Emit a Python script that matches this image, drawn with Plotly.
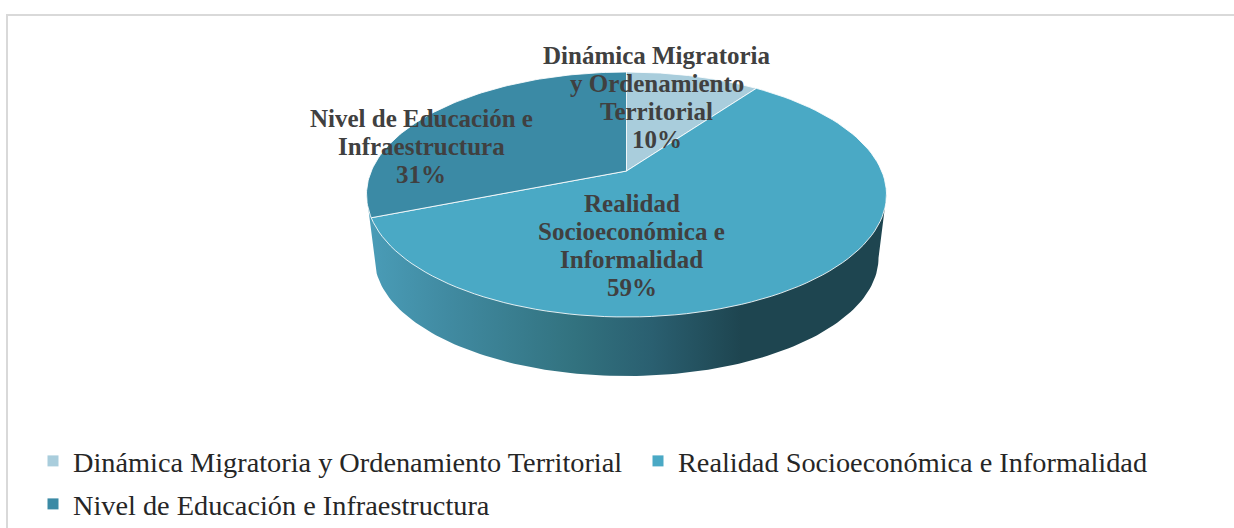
import numpy as np
import plotly.graph_objects as go

categories = ["Dinámica Migratoria y Ordenamiento Territorial",
              "Realidad Socioeconómica e Informalidad",
              "Nivel de Educación e Infraestructura"]
label_lines = [["Dinámica Migratoria", "y Ordenamiento", "Territorial"],
               ["Realidad", "Socioeconómica e", "Informalidad"],
               ["Nivel de Educación e", "Infraestructura"]]
values = [10, 59, 31]
colors = ["#A9CDDC", "#4AA9C5", "#3B8AA5"]

# the figure is a bit taller than the window, the frame and legend run to the cut edge
W, H = 1234, 560

# ellipse of the tilted pie top, in pixels
CX, CY, RX, RY = 626.5, 194.5, 260, 122.5
APEX_RISE = 23.5  # the apex sits above the ellipse centre because of perspective
K = APEX_RISE / RY
A = RX * np.sqrt(1 - K ** 2)


def project(theta):
    # theta in radians, clockwise from 12 o'clock
    c, s = np.sin(theta), np.cos(theta)
    d = 1 + K * s
    return CX + A * c / d, CY - (RY * s + APEX_RISE) / d


fig = go.Figure()

# side wall, drawn first so the top covers its upper edge
t = np.linspace(np.pi, 0, 120)
bx = CX + 252 * np.cos(t)
by = 258 + 118 * np.sin(t)
wall_x = [CX - RX] + list(bx) + [CX + RX]
wall_y = [CY] + list(by) + [CY]
fig.add_trace(go.Scatter(
    x=wall_x, y=wall_y, mode="lines", fill="toself", line=dict(width=0),
    fillgradient=dict(type="horizontal", colorscale=[
        [0, "#4A9DB8"], [0.15, "#418BA2"], [0.4, "#32727F"], [0.55, "#2A5F70"],
        [0.72, "#1E4550"], [1, "#1E4550"]]),
    showlegend=False, hoverinfo="skip"))

# top of the pie
total = sum(values)
start = 0.0
apex_x, apex_y = CX, CY - APEX_RISE
for cat, val, col in zip(categories, values, colors):
    sweep = val / total * 2 * np.pi
    th = np.linspace(start, start + sweep, 100)
    px, py = project(th)
    fig.add_trace(go.Scatter(
        x=[apex_x] + list(px) + [apex_x], y=[apex_y] + list(py) + [apex_y],
        mode="lines", fill="toself", fillcolor=col,
        line=dict(color="rgba(255,255,255,0.85)", width=1),
        name=cat, showlegend=False, hoverinfo="name"))
    start += sweep

# one legend per entry so each can sit where the original has it
legend_names = ["legend", "legend2", "legend3"]
for name, cat, col in zip(legend_names, categories, colors):
    fig.add_trace(go.Scatter(
        x=[None], y=[None], mode="markers", name=cat, legend=name,
        marker=dict(symbol="square", size=11, color=col)))

# data labels, one annotation per line to hold the 28px line step
label_pos = [(656.5, 55), (631.5, 203), (421, 118)]
for lines, val, (lx, ly) in zip(label_lines, values, label_pos):
    for n, line in enumerate(lines + [f"{val}%"]):
        fig.add_annotation(
            x=lx, y=ly + 28 * n, text=line, showarrow=False, align="center",
            font=dict(family="Liberation Serif", size=25, color="#404040", weight="bold"))

# outer frame, runs off the right and bottom of the picture
fig.add_shape(type="rect", x0=7, y0=15, x1=W + 60, y1=H + 60,
              line=dict(color="#D9D9D9", width=2), layer="below")

legend_font = dict(family="Liberation Serif", size=28.3, color="#262626")


def legend_at(px, py):
    return dict(orientation="h", x=px / W, y=1 - py / H, xanchor="left", yanchor="top",
                font=legend_font, bgcolor="rgba(0,0,0,0)")


fig.update_layout(
    width=W, height=H,
    margin=dict(l=0, r=0, t=0, b=0),
    paper_bgcolor="white", plot_bgcolor="white",
    xaxis=dict(range=[0, W], visible=False, fixedrange=True),
    yaxis=dict(range=[H, 0], visible=False, fixedrange=True),
    legend=legend_at(33, 436),
    legend2=legend_at(638, 436),
    legend3=legend_at(33, 479),
)

fig.write_html("out.html", config=dict(displayModeBar=False),
               post_script="document.body.style.margin='0';document.body.style.overflow='hidden';")
